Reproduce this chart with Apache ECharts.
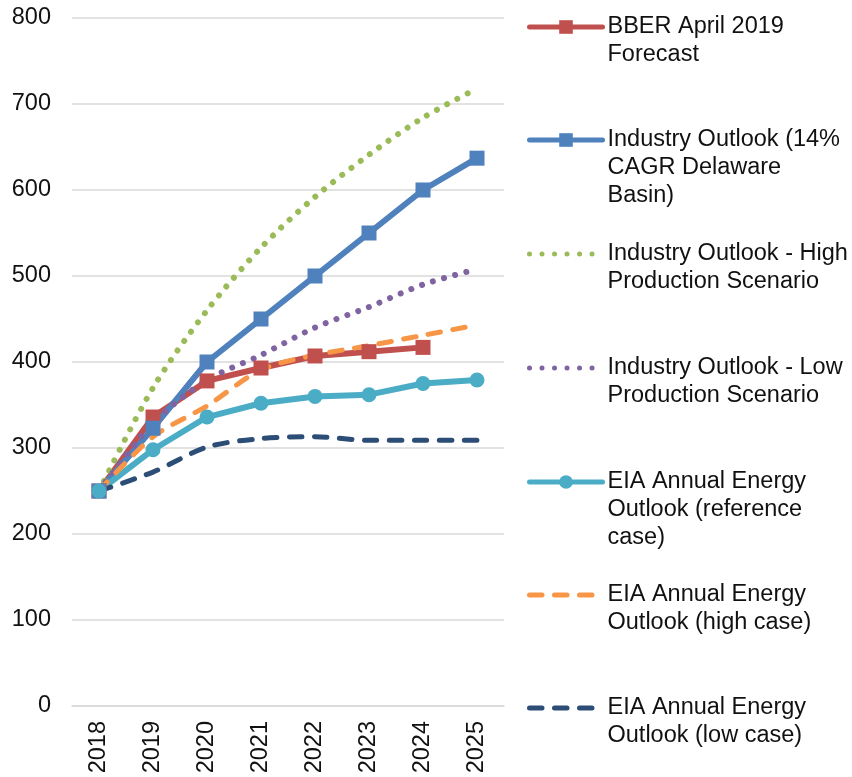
<!DOCTYPE html>
<html>
<head>
<meta charset="utf-8">
<script src="https://cdn.jsdelivr.net/npm/echarts@6/dist/echarts.min.js"></script>
<style>html,body{margin:0;padding:0;background:#fff}#c{width:852px;height:777px}</style>
</head>
<body>
<div id="c"></div>
<script>
const years = ['2018','2019','2020','2021','2022','2023','2024','2025'];
const yTicks = [0,100,200,300,400,500,600,700,800];

const bber        = [250, 336, 378, 393, 407, 412, 417, null];
const industry14  = [250, 323, 400, 450, 500, 550, 600, 637];
const industryHi  = [250, 370, 460, 533, 592, 641, 684, 718];
const industryLo  = [250, 329, 379, 408, 440, 464, 490, 508];
const eiaRef      = [250, 298, 336, 352, 360, 362, 375, 379];
const eiaHigh     = [250, 313, 349, 391, 408, 419, 431, 443];
const eiaLow      = [250, 272, 301, 311, 313, 309, 309, 309];

const names = [
  'BBER April 2019 Forecast',
  'Industry Outlook (14% CAGR Delaware Basin)',
  'Industry Outlook - High Production Scenario',
  'Industry Outlook - Low Production Scenario',
  'EIA Annual Energy Outlook (reference case)',
  'EIA Annual Energy Outlook (high case)',
  'EIA Annual Energy Outlook (low case)'
];
const legendLabels = [
  'BBER April 2019\nForecast',
  'Industry Outlook (14%\nCAGR Delaware\nBasin)',
  'Industry Outlook - High\nProduction Scenario',
  'Industry Outlook - Low\nProduction Scenario',
  'EIA Annual Energy\nOutlook (reference\ncase)',
  'EIA Annual Energy\nOutlook (high case)',
  'EIA Annual Energy\nOutlook (low case)'
];
const colors = ['#C0504D','#4F81BD','#9BBB59','#8064A2','#4BACC6','#F79646','#2C4D75'];
const iconCenters = [27, 140, 254, 368, 482, 595, 708];

const FONT = '"Liberation Sans", Arial, sans-serif';
const LH = 28;
const FS = 23.5;

const solid  = {type:'solid', width:6, cap:'round', join:'round'};
const dotted = {type:[0.01, 11.5], cap:'round', width:6};
const dashed = {type:[12.5, 12.5], cap:'round', width:5};

const seriesData = [bber, industry14, industryHi, industryLo, eiaRef, eiaHigh, eiaLow];
const styles = [
  {symbol:'rect',   symbolSize:15, line:solid,  smooth:false},
  {symbol:'rect',   symbolSize:15, line:solid,  smooth:false},
  {symbol:'none',   line:dotted, smooth:true},
  {symbol:'none',   line:dotted, smooth:true},
  {symbol:'circle', symbolSize:15, line:solid,  smooth:false},
  {symbol:'none',   line:dashed, smooth:true},
  {symbol:'none',   line:dashed, smooth:true}
];

const series = seriesData.map((d,i)=>({
  name: names[i],
  type:'line',
  data: d,
  symbol: styles[i].symbol,
  symbolSize: styles[i].symbolSize || 0,
  showSymbol: styles[i].symbol !== 'none',
  smooth: styles[i].smooth ? 0.3 : false,
  connectNulls:false,
  color: colors[i],
  lineStyle: Object.assign({color: colors[i]}, styles[i].line),
  itemStyle: {color: colors[i]},
  emphasis:{disabled:true},
  animation:false
}));

const legends = names.map((n,i)=>{
  const lines = legendLabels[i].split('\n').length;
  const hasSym = styles[i].symbol !== 'none';
  const ls = styles[i].line;
  const legLine = {width: 5, type: ls === dotted ? [0.01, 12.5] : ls.type, cap:'round', color: colors[i]};
  return {
    show:true,
    left: 527,
    top: iconCenters[i] - (2*lines-1)*LH/2,
    padding:0,
    itemWidth:73,
    itemHeight:17,
    itemGap:3,
    selectedMode:false,
    data:[n],
    lineStyle: legLine,
    itemStyle: hasSym ? {color: colors[i]} : {color:'rgba(0,0,0,0)', borderWidth:0, opacity:0},
    formatter: ()=>'\n'.repeat(lines-1) + legendLabels[i],
    textStyle:{fontFamily:FONT, fontSize:FS, color:'#111', lineHeight:LH}
  };
});

const chart = echarts.init(document.getElementById('c'), null, {renderer:'canvas'});
chart.setOption({
  animation:false,
  backgroundColor:'#fff',
  grid:{left:72, right:348, top:18, bottom:71, containLabel:false},
  legend: legends,
  xAxis:{
    type:'category',
    data: years,
    boundaryGap:true,
    axisTick:{show:false},
    axisLine:{lineStyle:{color:'#d9d9d9', width:1.5}},
    axisLabel:{rotate:90, fontFamily:FONT, fontSize:FS, color:'#111', margin:15}
  },
  yAxis:{
    type:'value',
    min: yTicks[0],
    max: yTicks[yTicks.length-1],
    interval: 100,
    axisLine:{show:false},
    axisTick:{show:false},
    splitLine:{lineStyle:{color:'#d9d9d9', width:1.5}},
    axisLabel:{fontFamily:FONT, fontSize:FS, color:'#111', margin:21}
  },
  series: series
});
</script>
</body>
</html>
